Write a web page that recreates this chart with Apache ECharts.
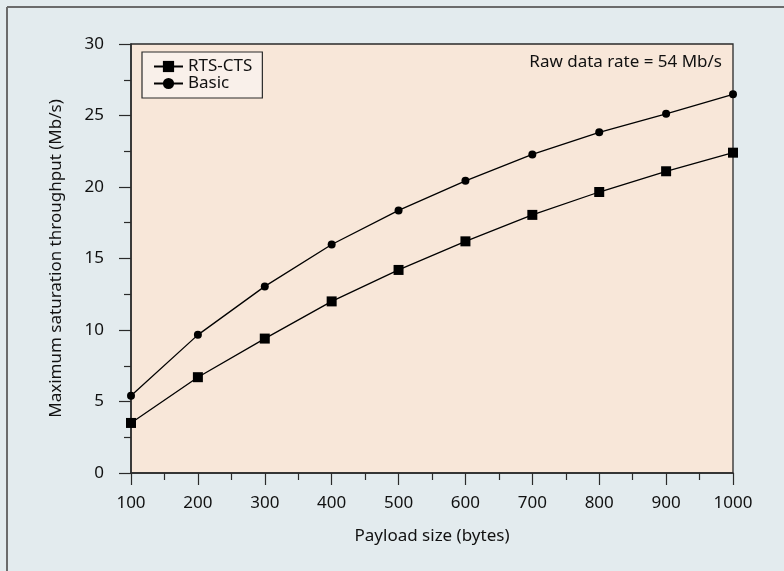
<!DOCTYPE html>
<html>
<head>
	<meta charset="utf-8" />
	<title>Saturation throughput vs payload size</title>
	<style type="text/css">
		html, body {
			margin: 0;
			padding: 0;
			background: #e3ebee;
		}

		#main {
			width: 784px;
			height: 571px;
		}
	</style>
	<script src="https://cdn.jsdelivr.net/npm/echarts@6.0.0/dist/echarts.min.js"></script>
</head>
<body>
	<div id="main"></div>
	<script type="text/javascript">

		// values
		const payload = [100, 200, 300, 400, 500, 600, 700, 800, 900, 1000];
		const rtsCts = [3.5, 6.7, 9.4, 12.0, 14.2, 16.2, 18.05, 19.65, 21.1, 22.4];
		const basic = [5.4, 9.66, 13.05, 15.98, 18.36, 20.43, 22.28, 23.82, 25.12, 26.48];
		const note = 'Raw data rate = 54 Mb/s';

		const font = '"Noto Sans", "Open Sans", sans-serif';
		const pairs = (ys) => payload.map((x, i) => [x, ys[i]]);

		const frame = { stroke: '#6b6b6b', lineWidth: 2 };

		const options = {
			backgroundColor: '#e3ebee',
			animation: false,
			textStyle: { fontFamily: font },
			grid: {
				left: 131,
				right: 51,
				top: 44,
				bottom: 98,
				show: true,
				backgroundColor: '#f8e7d9',
				borderColor: '#2a2a2a',
				borderWidth: 1.3
			},
			legend: {
				orient: 'vertical',
				left: 142,
				top: 52,
				padding: [6, 10, 6, 11],
				itemGap: 0,
				itemWidth: 29,
				itemHeight: 14,
				backgroundColor: '#f9f0ea',
				borderColor: '#2a2a2a',
				borderWidth: 1.2,
				borderRadius: 0,
				textStyle: { fontSize: 17, color: '#111', fontFamily: font },
				data: ['RTS-CTS', 'Basic']
			},
			xAxis: {
				type: 'value',
				min: 100,
				max: 1000,
				interval: 100,
				name: 'Payload size (bytes)',
				nameLocation: 'middle',
				nameGap: 55,
				nameTextStyle: { fontSize: 17, color: '#111' },
				splitLine: { show: false },
				axisLine: { lineStyle: { color: '#2a2a2a', width: 1.5 } },
				axisTick: { length: 12, lineStyle: { color: '#2a2a2a', width: 1.2 } },
				minorTick: { show: true, splitNumber: 2, length: 7, lineStyle: { color: '#2a2a2a', width: 1.2 } },
				axisLabel: { margin: 22, fontSize: 17, color: '#111', formatter: (v) => String(v) }
			},
			yAxis: {
				type: 'value',
				min: 0,
				max: 30,
				interval: 5,
				name: 'Maximum saturation throughput (Mb/s)',
				nameLocation: 'middle',
				nameGap: 66,
				nameTextStyle: { fontSize: 17, color: '#111' },
				splitLine: { show: false },
				axisLine: { show: true, lineStyle: { color: '#2a2a2a', width: 1.5 } },
				axisTick: { show: true, length: 12, lineStyle: { color: '#2a2a2a', width: 1.2 } },
				minorTick: { show: true, splitNumber: 2, length: 7, lineStyle: { color: '#2a2a2a', width: 1.2 } },
				axisLabel: { margin: 27, fontSize: 17, color: '#111' }
			},
			graphic: [
				// outer frame: only its top and left edges are inside the picture
				{
					type: 'line',
					shape: { x1: 7, y1: 7, x2: 784, y2: 7 },
					style: frame,
					silent: true
				},
				{
					type: 'line',
					shape: { x1: 7, y1: 7, x2: 7, y2: 571 },
					style: frame,
					silent: true
				},
				{
					type: 'text',
					right: 62,
					top: 54,
					style: { text: note, fontSize: 17, fill: '#111', fontFamily: font }
				}
			],
			series: [
				{
					name: 'RTS-CTS',
					type: 'line',
					data: pairs(rtsCts),
					symbol: 'rect',
					symbolSize: 10,
					itemStyle: { color: '#000' },
					lineStyle: { color: '#000', width: 1.3 },
					clip: false,
					z: 3
				},
				{
					name: 'Basic',
					type: 'line',
					data: pairs(basic),
					symbol: 'circle',
					symbolSize: 8,
					itemStyle: { color: '#000' },
					lineStyle: { color: '#000', width: 1.3 },
					clip: false,
					z: 3
				}
			]
		};

		const myChart = echarts.init(document.getElementById('main'));
		myChart.setOption(options);
	</script>
</body>
</html>
